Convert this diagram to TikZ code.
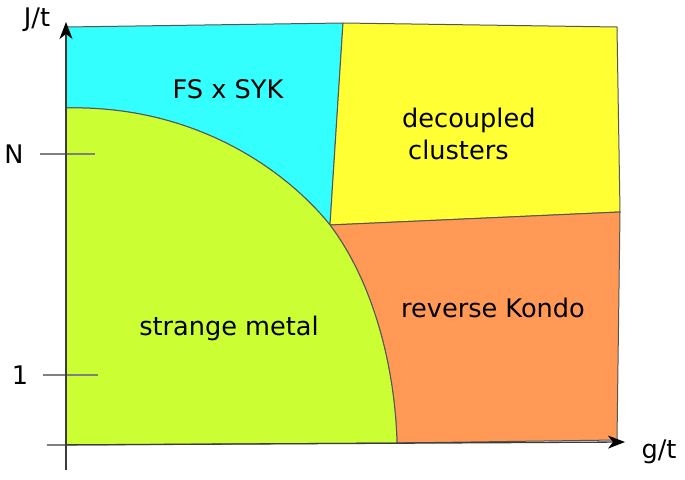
\documentclass[tikz,border=0pt]{standalone}
\usepackage{fontspec}
\setmainfont{DejaVu Sans}
\usetikzlibrary{arrows.meta}
\definecolor{fscyan}{HTML}{33FFFF}
\definecolor{decyellow}{HTML}{FFFF33}
\definecolor{smgreen}{HTML}{CCFF33}
\definecolor{rkorange}{HTML}{FF9955}
\definecolor{edge}{HTML}{555555}

\begin{document}
\begin{tikzpicture}[x=1pt,y=-1pt,
  phase/.style={draw=edge,line width=1pt,line join=round},
  axis/.style={draw=edge!70!black,line width=1.3pt,-{Stealth[length=17pt,width=13pt,inset=5pt,color=black]}},
  tickline/.style={draw=edge!75,line width=1.2pt},
  lbl/.style={font=\fontsize{25.6}{32}\selectfont,text=black,inner sep=2pt}
]
\useasboundingbox (0,0) rectangle (685,479);
% corners of the phases
\coordinate (tl) at (66,27);
\coordinate (tm) at (343,23);
\coordinate (tr) at (617,27);
\coordinate (mr) at (620,212);
\coordinate (tri) at (330,225);
\coordinate (gl) at (66,108);
\coordinate (bl) at (66,445);
\coordinate (bm) at (397,443);
\coordinate (br) at (617,440);
% phases
\path[phase,fill=fscyan] (tl) -- (tm) -- (tri) .. controls (290,175) and (200,105) .. (gl) -- cycle;
\path[phase,fill=decyellow] (tm) -- (tr) -- (mr) -- (tri) -- cycle;
\path[phase,fill=rkorange] (tri) -- (mr) -- (br) -- (bm) .. controls (395,370) and (375,285) .. (tri) -- cycle;
\path[phase,fill=smgreen] (gl) .. controls (200,105) and (290,175) .. (tri) .. controls (375,285) and (395,370) .. (bm) -- (bl) -- cycle;
% axes and ticks
\coordinate (y0) at (66,470);
\coordinate (y1) at (66,22);
\coordinate (x0) at (47,445);
\coordinate (x1) at (625,442);
\coordinate (nA) at (40,154);
\coordinate (nB) at (95,154);
\coordinate (oA) at (43,375);
\coordinate (oB) at (98,375);
\draw[tickline] (nA) -- (nB);
\draw[tickline] (oA) -- (oB);
\draw[axis] (y0) -- (y1);
\draw[axis] (x0) -- (x1);
% labels
\node[lbl] (jt) at (37,20) {J/t};
\node[lbl] (gt) at (659,452) {g/t};
\node[lbl] (nN) at (14,154) {N};
\node[lbl] (n1) at (20,375) {1};
\node[lbl] (fs) at (228,89) {FS x SYK};
\node[lbl,align=left,anchor=west] (dec) at (400,134) {decoupled\\\hspace*{6pt}clusters};
\node[lbl] (rk) at (493,308) {reverse Kondo};
\node[lbl] (sm) at (229,328) {strange metal};
\end{tikzpicture}
\end{document}
